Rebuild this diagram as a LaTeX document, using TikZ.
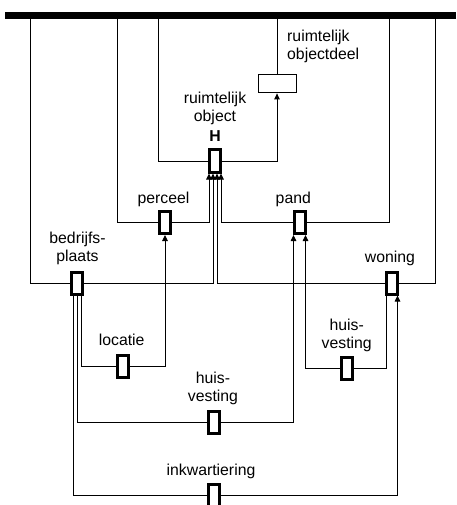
\documentclass[tikz,border=0pt]{standalone}
\usepackage{fontspec}
\setmainfont{Liberation Sans}
\usetikzlibrary{arrows.meta}

\begin{document}
\begin{tikzpicture}[x=1pt,y=-1pt,
    ent/.style={draw,line width=3pt,fill=white,inner sep=0pt,minimum width=11pt,minimum height=22pt},
    lbl/.style={font=\fontsize{15.8}{18.3}\selectfont,align=center,inner sep=0pt,anchor=base},
    con/.style={line width=0.9pt},
    arr/.style={con,-{Triangle[width=5.5pt,length=6pt]}}]
    \useasboundingbox (0,0) rectangle (456,505);
    \clip (0,0) rectangle (456,505);
    \node (top) [fill,inner sep=0pt,minimum width=451pt,minimum height=7pt,anchor=north west] at (5,12) {};
    \coordinate (tbp) at (30,19);
    \coordinate (tper) at (117,19);
    \coordinate (tH) at (158,19);
    \coordinate (tod) at (277,19);
    \coordinate (tpand) at (389,19);
    \coordinate (twon) at (435,19);
    \node (od) [draw,con,fill=white,inner sep=0pt,minimum width=38pt,minimum height=18.5pt] at (277,83.7) {};
    \node[ent] (H) at (215,161) {};
    \node[ent] (per) at (165,222.5) {};
    \node[ent] (pand) at (299.5,222.5) {};
    \node[ent] (bp) at (77,283) {};
    \node[ent] (won) at (392,283) {};
    \node[ent] (loc) at (123,366) {};
    \node[ent] (hv2) at (346.5,368) {};
    \node[ent] (hv1) at (213.5,422.5) {};
    \node[ent] (ink) at (213.7,495.5) {};
    \node[lbl,align=left,anchor=base west] (lod) at (287,60) {ruimtelijk\\objectdeel};
    \node[lbl] (lH) at (215,121.7) {ruimtelijk\\object};
    \node[lbl,font=\fontsize{15.8}{18.3}\selectfont\bfseries] (lHH) at (215,142) {H};
    \node[lbl] (lper) at (163.5,203.3) {perceel};
    \node[lbl] (lpand) at (293.3,203.3) {pand};
    \node[lbl] (lbp) at (77.5,261.7) {bedrijfs-\\plaats};
    \node[lbl] (lwon) at (390,262.5) {woning};
    \node[lbl] (lloc) at (121.7,345) {locatie};
    \node[lbl] (lhv2) at (346.7,348.3) {huis-\\vesting};
    \node[lbl] (lhv1) at (213,401.7) {huis-\\vesting};
    \node[lbl] (link) at (211,475) {inkwartiering};
    \draw[con] (H.west) -| (tH);
    \draw[arr] (H.east) -| (od.south);
    \draw[con] (od.north) -- (tod);
    \draw[con] (per.west) -| (tper);
    \draw[arr] (per.east) -| ([xshift=-6]H.south);
    \draw[con] (pand.east) -| (tpand);
    \draw[arr] (pand.west) -| ([xshift=6]H.south);
    \draw[con] (bp.west) -| (tbp);
    \draw[arr] (bp.east) -| ([xshift=-2]H.south);
    \draw[con] (won.east) -| (twon);
    \draw[arr] (won.west) -| ([xshift=2]H.south);
    \draw[con] ([xshift=4.5]bp.south) |- (loc.west);
    \draw[arr] (loc.east) -| (per.south);
    \draw[con] (bp.south) |- (hv1.west);
    \draw[arr] (hv1.east) -| ([xshift=-6]pand.south);
    \draw[arr] (hv2.west) -| ([xshift=6]pand.south);
    \draw[con] (hv2.east) -| ([xshift=-5.5]won.south);
    \draw[con] ([xshift=-4]bp.south) |- (ink.west);
    \draw[arr] (ink.east) -| ([xshift=5.5]won.south);
\end{tikzpicture}
\end{document}
